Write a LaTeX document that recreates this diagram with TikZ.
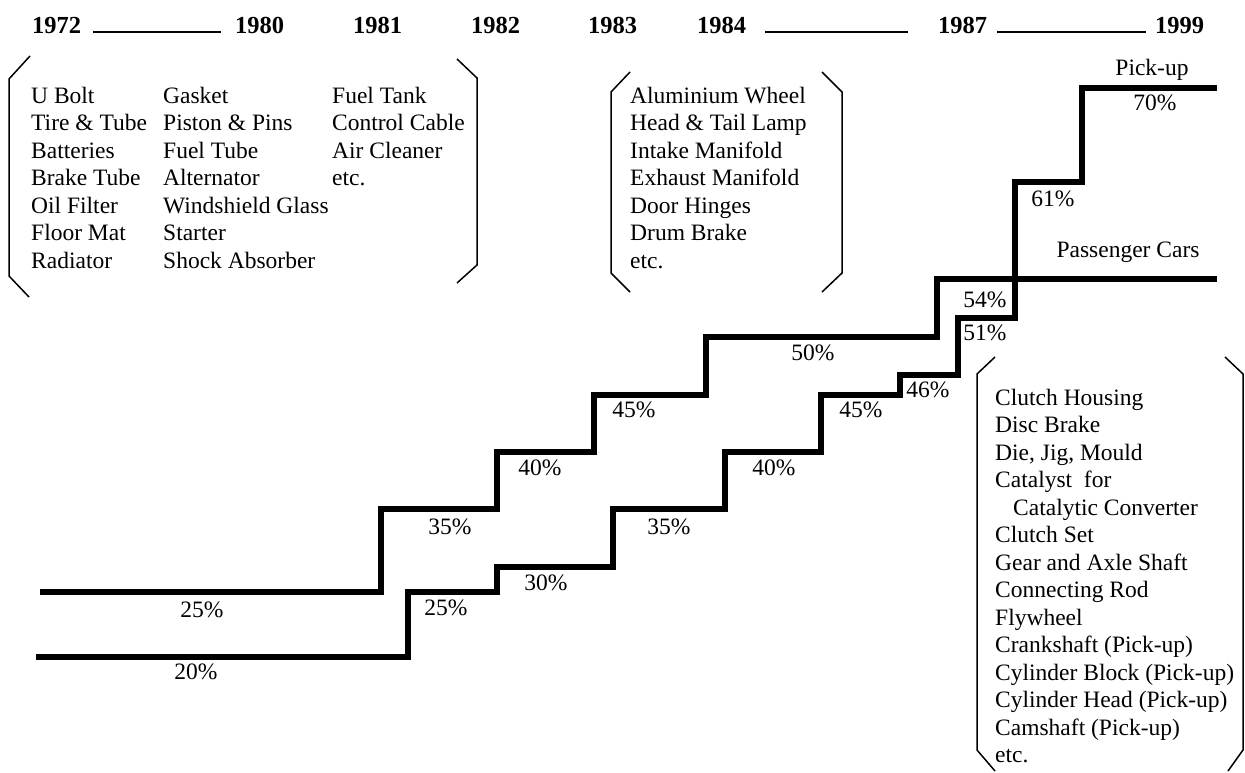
\documentclass[tikz,border=0pt]{standalone}
\usepackage{fontspec}
\setmainfont{Liberation Serif}
\begin{document}
\begin{tikzpicture}[x=1pt,y=-1pt,
  txt/.style={inner sep=0pt,anchor=base west,font=\fontsize{23.5}{27.5}\selectfont},
  yr/.style={inner sep=0pt,anchor=base west,font=\fontsize{24.5}{28}\selectfont\bfseries},
  pct/.style={inner sep=0pt,font=\fontsize{23.5}{27.5}\selectfont},
  stair/.style={line width=5.4pt,line cap=butt,line join=miter},
  brk/.style={line width=1.5pt},
  yline/.style={line width=2.6pt}]
\useasboundingbox (0,0) rectangle (1245,772);

% years
\node[yr] (y1972) at (32,33) {1972};
\node[yr] (y1980) at (235,33) {1980};
\node[yr] (y1981) at (353,33) {1981};
\node[yr] (y1982) at (471,33) {1982};
\node[yr] (y1983) at (588,33) {1983};
\node[yr] (y1984) at (697,33) {1984};
\node[yr] (y1987) at (938,33) {1987};
\node[yr] (y1999) at (1155,33) {1999};
\draw[yline] (93,32) -- (221,32);
\draw[yline] (765,32) -- (908,32);
\draw[yline] (997,32) -- (1146,32);

% left box
\draw[brk] (30,56) -- (9,79) -- (9,276) -- (29,297);
\draw[brk] (457,59) -- (477,78) -- (477,265) -- (457,283);
\foreach \t [count=\i from 0] in {U Bolt, Tire \& Tube, Batteries, Brake Tube, Oil Filter, Floor Mat, Radiator}
  \node[txt] (a\i) at (31,{103+27.5*\i}) {\t};
\foreach \t [count=\i from 0] in {Gasket, Piston \& Pins, Fuel Tube, Alternator, Windshield Glass, Starter, Shock Absorber}
  \node[txt] (b\i) at (163,{103+27.5*\i}) {\t};
\foreach \t [count=\i from 0] in {Fuel Tank, Control Cable, Air Cleaner, etc.}
  \node[txt] (c\i) at (332,{103+27.5*\i}) {\t};

% middle box
\draw[brk] (630,72) -- (611,92) -- (611,273) -- (630,292);
\draw[brk] (822,72) -- (842,92) -- (842,273) -- (822,292);
\foreach \t [count=\i from 0] in {Aluminium Wheel, Head \& Tail Lamp, Intake Manifold, Exhaust Manifold, Door Hinges, Drum Brake, etc.}
  \node[txt] (m\i) at (630,{103+27.5*\i}) {\t};

% right box
\draw[brk] (995,357) -- (977,374) -- (977,750) -- (995,771);
\draw[brk] (1225,357) -- (1243,374) -- (1243,750) -- (1228,771);
\foreach \t [count=\i from 0] in {Clutch Housing, Disc Brake, {Die, Jig, Mould}, Catalyst\ \ for, \hspace{18pt}Catalytic Converter, Clutch Set, Gear and Axle Shaft, Connecting Rod, Flywheel, Crankshaft (Pick-up), Cylinder Block (Pick-up), Cylinder Head (Pick-up), Camshaft (Pick-up), etc.}
  \node[txt] (r\i) at (995,{405+27.5*\i}) {\t};

% stairs
\draw[stair] (40,592) -- (381,592) -- (381,509) -- (497,509) -- (497,452) -- (594,452) -- (594,395) -- (706,395) -- (706,337) -- (937,337) -- (937,279) -- (1217,279);
\draw[stair] (36,657) -- (408,657) -- (408,592) -- (497,592) -- (497,567) -- (613,567) -- (613,509) -- (725,509) -- (725,452) -- (821,452) -- (821,395) -- (900,395) -- (900,375) -- (958,375) -- (958,318) -- (1015,318) -- (1015,182) -- (1082,182) -- (1082,88) -- (1217,88);

% percentages, upper line
\node[pct] (u25) at (202,610) {25\%};
\node[pct] (u35) at (450,527) {35\%};
\node[pct] (u40) at (540,468) {40\%};
\node[pct] (u45) at (634,410) {45\%};
\node[pct] (u50) at (813,353) {50\%};
\node[pct] (u54) at (985,300) {54\%};
% percentages, lower line
\node[pct] (l20) at (196,672) {20\%};
\node[pct] (l25) at (446,608) {25\%};
\node[pct] (l30) at (546,583) {30\%};
\node[pct] (l35) at (669,527) {35\%};
\node[pct] (l40) at (774,468) {40\%};
\node[pct] (l45) at (861,410) {45\%};
\node[pct] (l46) at (928,390) {46\%};
\node[pct] (l51) at (985,333) {51\%};
\node[pct] (l61) at (1053,199) {61\%};
\node[pct] (l70) at (1155,103) {70\%};

\node[pct] (pickup) at (1152,70) {Pick-up};
\node[pct] (pcars) at (1128,252) {Passenger Cars};
\end{tikzpicture}
\end{document}
